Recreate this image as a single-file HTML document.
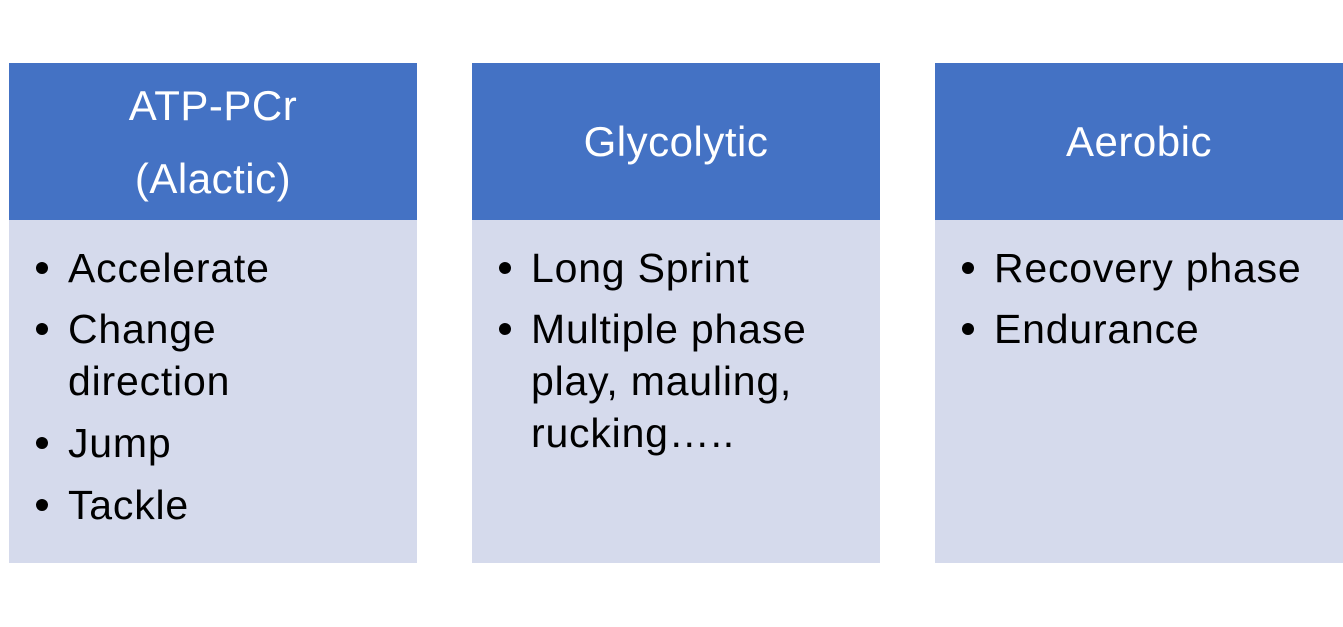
<!DOCTYPE html>
<html><head><meta charset="utf-8"><style>
body{margin:0;width:1343px;height:627px;background:#fff;position:relative;overflow:hidden;font-family:"Liberation Sans",sans-serif;}
.h{position:absolute;top:63px;height:157px;width:408px;background:#4472C4;}
.b{position:absolute;top:220px;height:343px;width:408px;background:#D5DAEC;}
.t{position:absolute;color:#fff;font-size:42px;line-height:52px;width:408px;text-align:center;letter-spacing:0.5px;}
.l{position:absolute;font-size:41px;line-height:52px;color:#000;white-space:nowrap;letter-spacing:0.8px;}
.d{position:absolute;width:12px;height:12px;border-radius:50%;background:#000;}
</style></head><body>
<div class="h" style="left:9px"></div><div class="b" style="left:9px"></div>
<div class="h" style="left:472px"></div><div class="b" style="left:472px"></div>
<div class="h" style="left:935px"></div><div class="b" style="left:935px"></div>

<div class="t" style="left:9px;top:80px">ATP-PCr</div>
<div class="t" style="left:9px;top:153px">(Alactic)</div>
<div class="t" style="left:472px;top:116px">Glycolytic</div>
<div class="t" style="left:935px;top:116px">Aerobic</div>

<div class="d" style="left:36px;top:262px"></div><div class="l" style="left:68px;top:242px">Accelerate</div>
<div class="d" style="left:36px;top:323px"></div><div class="l" style="left:68px;top:303px">Change</div>
<div class="l" style="left:68px;top:355px">direction</div>
<div class="d" style="left:36px;top:437px"></div><div class="l" style="left:68px;top:417px">Jump</div>
<div class="d" style="left:36px;top:499px"></div><div class="l" style="left:68px;top:479px">Tackle</div>

<div class="d" style="left:499px;top:262px"></div><div class="l" style="left:531px;top:242px">Long Sprint</div>
<div class="d" style="left:499px;top:323px"></div><div class="l" style="left:531px;top:303px">Multiple phase</div>
<div class="l" style="left:531px;top:355px">play, mauling,</div>
<div class="l" style="left:531px;top:407px">rucking…..</div>

<div class="d" style="left:962px;top:262px"></div><div class="l" style="left:994px;top:242px">Recovery phase</div>
<div class="d" style="left:962px;top:323px"></div><div class="l" style="left:994px;top:303px">Endurance</div>
</body></html>
